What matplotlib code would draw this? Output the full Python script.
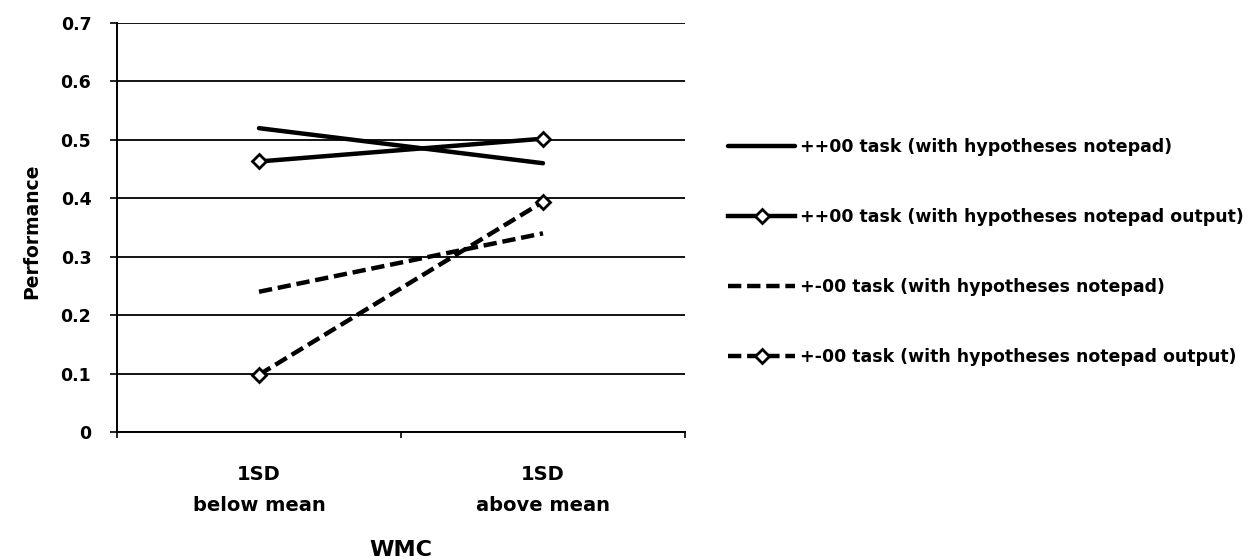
import matplotlib
matplotlib.use("Agg")
import matplotlib.pyplot as plt

plt.rcParams['font.family'] = ['DejaVu Sans']
plt.rcParams['font.weight'] = 'bold'

categories = ["1SD\nbelow mean", "1SD\nabove mean"]
series_names = [
    "++00 task (with hypotheses notepad)",
    "++00 task (with hypotheses notepad output)",
    "+-00 task (with hypotheses notepad)",
    "+-00 task (with hypotheses notepad output)",
]
s1 = [0.52, 0.46]
s2 = [0.463, 0.502]
s3 = [0.24, 0.34]
s4 = [0.098, 0.394]
yticks = [0, 0.1, 0.2, 0.3, 0.4, 0.5, 0.6, 0.7]

fig = plt.figure(figsize=(12.52, 5.6), dpi=100)
ax = fig.add_axes([117/1252, 1-432/560, (685-117)/1252, (432-23)/560])

x = list(range(len(categories)))
lw = 3.2
dash = (0, (3.0, 1.3))
ax.plot(x, s1, color='black', lw=lw, solid_capstyle='round', label=series_names[0])
ax.plot(x, s2, color='black', lw=lw, marker='D', ms=7, mfc='white', mec='black', mew=2,
        label=series_names[1])
ax.plot(x, s3, color='black', lw=lw, ls=dash, label=series_names[2])
ax.plot(x, s4, color='black', lw=lw, ls=dash, marker='D', ms=7, mfc='white',
        mec='black', mew=2, label=series_names[3])

ax.set_xlim(-0.5, 1.5)
ax.set_ylim(0, 0.7)
ax.set_yticks(yticks)
ax.set_yticklabels(["0" if v == 0 else f"{v:.1f}" for v in yticks])
ax.yaxis.grid(True, color='black', lw=1.3)
ax.set_axisbelow(True)
ax.set_xticks([-0.5, 0.5, 1.5])
ax.set_xticklabels([])
ax.set_xticks(x, minor=True)
ax.set_xticklabels(categories, minor=True, fontsize=14, fontweight='bold', linespacing=1.85)
ax.tick_params(axis='x', which='minor', length=0, pad=23.5)
ax.tick_params(axis='x', which='major', length=4, width=1.2, direction='out')
ax.tick_params(axis='y', length=5, width=1.2, labelsize=12.5, pad=13.5)
for s in ['top', 'right']:
    ax.spines[s].set_visible(False)
ax.spines['left'].set_linewidth(1.4)
ax.spines['bottom'].set_linewidth(1.4)

ax.set_ylabel("Performance", fontsize=13.5, fontweight='bold')
ax.yaxis.set_label_coords(-0.134, 0.49)
ax.set_xlabel("WMC", fontsize=16, fontweight='bold', labelpad=18)

leg = fig.legend(loc='center left', bbox_to_anchor=(728/1252, 1-252/560),
                 bbox_transform=fig.transFigure, frameon=False,
                 fontsize=12.5, handlelength=3.86, handletextpad=0.29, labelspacing=2.98,
                 borderpad=0, borderaxespad=0, numpoints=1)
for t in leg.get_texts():
    t.set_fontweight('bold')

fig.savefig("out.png", dpi=100, facecolor='white')
